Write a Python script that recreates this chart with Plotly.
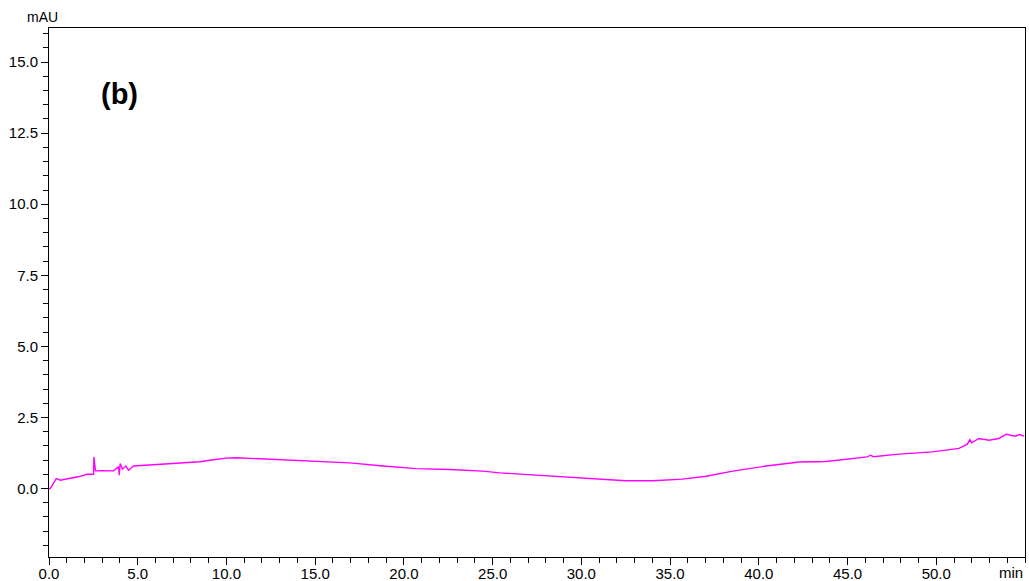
import plotly.graph_objects as go

# Chromatogram trace (retention time in min, absorbance in mAU)
time_min = [0.0, 0.07, 0.41, 0.64, 1.2, 1.7, 2.14, 2.51, 2.53, 2.62, 3.0, 3.4, 3.64,
            3.92, 3.96, 4.01, 4.14, 4.33, 4.48, 4.76, 5.5, 6.64, 7.8, 8.5, 9.26,
            10.0, 10.58, 11.33, 13.2, 15.08, 16.96, 18.83, 20.71, 22.58, 24.46,
            25.4, 27.27, 29.15, 31.02, 32.5, 34.02, 35.7, 37.03, 38.53, 40.4,
            42.28, 43.78, 45.1, 46.12, 46.3, 46.45, 47.9, 49.78, 51.28, 51.75,
            51.89, 52.0, 52.4, 52.97, 53.53, 53.95, 54.47, 54.7, 54.94]
signal_mau = [0.0, 0.0, 0.35, 0.29, 0.36, 0.42, 0.50, 0.50, 1.11, 0.62, 0.63, 0.62, 0.62,
              0.76, 0.47, 0.88, 0.68, 0.79, 0.64, 0.79, 0.82, 0.88, 0.93, 0.94, 1.01,
              1.07, 1.08, 1.06, 1.02, 0.96, 0.90, 0.79, 0.70, 0.67, 0.61,
              0.55, 0.47, 0.39, 0.32, 0.27, 0.27, 0.33, 0.43, 0.61, 0.79,
              0.93, 0.95, 1.04, 1.11, 1.17, 1.12, 1.21, 1.29, 1.41, 1.56,
              1.72, 1.61, 1.76, 1.70, 1.76, 1.91, 1.84, 1.90, 1.84]

x_tickvals = [0, 5, 10, 15, 20, 25, 30, 35, 40, 45, 50]
x_ticktext = ["0.0", "5.0", "10.0", "15.0", "20.0", "25.0", "30.0", "35.0", "40.0", "45.0", "50.0"]
y_tickvals = [0, 2.5, 5, 7.5, 10, 12.5, 15]
y_ticktext = ["0.0", "2.5", "5.0", "7.5", "10.0", "12.5", "15.0"]

font_family = "Liberation Sans, Arial, sans-serif"

fig = go.Figure()
fig.add_trace(go.Scatter(x=time_min, y=signal_mau, mode="lines",
                         line=dict(color="#FF00FF", width=1.4), hoverinfo="skip"))

axis_common = dict(showgrid=False, zeroline=False, showline=True, linecolor="#000000",
                   linewidth=1, mirror=True, ticks="outside", tickcolor="#000000",
                   tickwidth=1, ticklen=7, automargin=False,
                   tickfont=dict(family=font_family, size=15, color="#000000"))

fig.update_xaxes(range=[0, 55], tickmode="array", tickvals=x_tickvals, ticktext=x_ticktext,
                 ticklabelstandoff=-4,
                 minor=dict(ticks="outside", dtick=1, tick0=0, ticklen=5, tickcolor="#000000"),
                 **axis_common)
fig.update_yaxes(range=[-2.41, 16.2], tickmode="array", tickvals=y_tickvals, ticktext=y_ticktext,
                 minor=dict(ticks="outside", dtick=0.5, tick0=0, ticklen=5, tickcolor="#000000"),
                 **axis_common)

fig.add_annotation(text="mAU", xref="paper", yref="paper", x=-0.007, y=1.0, yshift=1,
                   xanchor="center", yanchor="bottom", showarrow=False,
                   font=dict(family=font_family, size=14, color="#000000"))
fig.add_annotation(text="min", xref="x", yref="paper", x=55, y=0, yshift=-5,
                   xanchor="right", yanchor="top", showarrow=False,
                   font=dict(family=font_family, size=15, color="#000000"))
fig.add_annotation(text="<b>(b)</b>", xref="paper", yref="paper", x=0.072, y=0.875,
                   xanchor="center", yanchor="middle", showarrow=False,
                   font=dict(family=font_family, size=29, color="#000000"))

fig.update_layout(width=1029, height=581, paper_bgcolor="#FFFFFF", plot_bgcolor="#FFFFFF",
                  margin=dict(l=49, r=4, t=28, b=24), showlegend=False)

fig.write_html("out.html")
